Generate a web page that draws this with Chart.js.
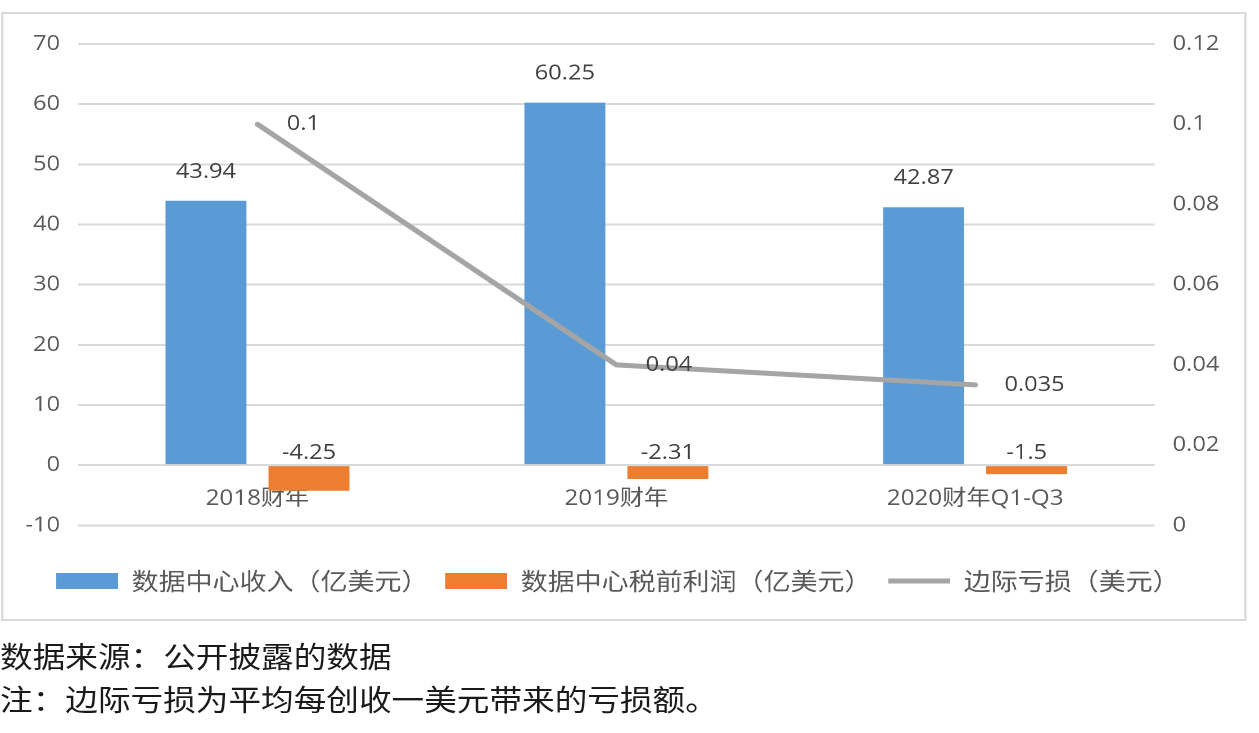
<!DOCTYPE html>
<html><head><meta charset="utf-8">
<script src="https://cdn.jsdelivr.net/npm/chart.js@4.4.1/dist/chart.umd.min.js"></script>
<style>
html,body{margin:0;padding:0;background:#fff;width:1259px;height:733px;overflow:hidden;}
#stage{position:absolute;left:0;top:0;width:1119.1px;height:733px;transform:scaleX(1.125);transform-origin:0 0;}
#box{position:absolute;left:0.9px;top:12px;width:1107.6px;height:609px;box-sizing:border-box;border:2px solid #D9D9D9;background:#fff;}
#wrap{position:relative;width:100%;height:100%;}
#note{position:absolute;left:0;top:633.5px;font-family:'Noto Sans CJK SC',sans-serif;font-size:29px;line-height:43px;color:#1a1a1a;white-space:nowrap;}
</style></head>
<body>
<div id="stage">
  <div id="box"><div id="wrap"><canvas id="c"></canvas></div></div>
  <div id="note">数据来源：公开披露的数据<br>注：边际亏损为平均每创收一美元带来的亏损额。</div>
</div>
<script>
const categories = ['2018财年', '2019财年', '2020财年Q1-Q3'];
const revenue = [43.94, 60.25, 42.87];
const pretaxProfit = [-4.25, -2.31, -1.5];
const marginalLoss = [0.1, 0.04, 0.035];
const seriesNames = ['数据中心收入（亿美元）', '数据中心税前利润（亿美元）', '边际亏损（美元）'];
const rightTickLabels = ['0', '0.02', '0.04', '0.06', '0.08', '0.1', '0.12'];

const FONT = "'Open Sans', 'Noto Sans CJK SC', sans-serif";
const TICK_COLOR = '#595959';

const valueLabels = {
  id: 'valueLabels',
  afterDatasetsDraw(chart) {
    const ctx = chart.ctx;
    const zeroY = chart.scales.y.getPixelForValue(0);
    ctx.save();
    ctx.font = '21px ' + FONT;
    ctx.fillStyle = '#404040';
    ctx.textBaseline = 'middle';
    chart.data.datasets.forEach((ds, di) => {
      const meta = chart.getDatasetMeta(di);
      meta.data.forEach((el, i) => {
        const v = ds.data[i];
        const text = String(v);
        if (ds.type === 'line') {
          ctx.textAlign = 'left';
          ctx.fillText(text, el.x + 26, el.y);
        } else {
          ctx.textAlign = 'center';
          const y = v >= 0 ? el.y - 29 : zeroY - 12;
          ctx.fillText(text, el.x, y);
        }
      });
    });
    ctx.restore();
  }
};

const legendShift = {
  id: 'legendShift',
  afterLayout(chart) {
    if (chart.legend) { chart.legend.left += 32; chart.legend.right += 32; }
  }
};

new Chart(document.getElementById('c'), {
  type: 'bar',
  data: {
    labels: categories,
    datasets: [
      { type: 'bar', label: seriesNames[0], data: revenue, backgroundColor: '#5B9BD5', borderWidth: 0,
        xAxisID: 'x', yAxisID: 'y', order: 1, pointStyle: 'rect',
        categoryPercentage: 0.574, barPercentage: 0.786 },
      { type: 'bar', label: seriesNames[1], data: pretaxProfit, backgroundColor: '#ED7D31', borderWidth: 0,
        xAxisID: 'x', yAxisID: 'y', order: 1, pointStyle: 'rect',
        categoryPercentage: 0.574, barPercentage: 0.786 },
      { type: 'line', label: seriesNames[2], data: marginalLoss, borderColor: '#A5A5A5', backgroundColor: '#A5A5A5',
        borderWidth: 5, borderCapStyle: 'round', borderJoinStyle: 'round', pointRadius: 0, tension: 0,
        xAxisID: 'x', yAxisID: 'y1', order: 0, pointStyle: 'line' }
    ]
  },
  options: {
    responsive: true,
    maintainAspectRatio: false,
    animation: false,
    devicePixelRatio: 2,
    layout: { padding: { top: 30, left: 0, right: 0, bottom: 16 } },
    plugins: {
      tooltip: { enabled: false },
      legend: {
        position: 'bottom',
        align: 'start',
        labels: {
          usePointStyle: true,
          pointStyleWidth: 55,
          boxHeight: 16,
          padding: 15,
          color: TICK_COLOR,
          font: { family: "'Noto Sans CJK SC', sans-serif", size: 24 },
          sort: (a, b) => a.datasetIndex - b.datasetIndex
        }
      }
    },
    scales: {
      x: {
        type: 'category',
        position: { y: 0 },
        offset: true,
        grid: { display: false, drawTicks: false },
        border: { display: false },
        ticks: { color: TICK_COLOR, font: { family: FONT, size: 21.5 }, padding: 21, maxRotation: 0, autoSkip: false }
      },
      xs: {
        type: 'category',
        position: 'bottom',
        offset: true,
        grid: { display: false, drawTicks: false },
        border: { display: false },
        ticks: { display: false },
        afterFit: (s) => { s.height = 28.7; }
      },
      y: {
        position: 'left',
        min: -10, max: 70,
        ticks: { stepSize: 10, color: TICK_COLOR, font: { family: FONT, size: 21 }, padding: 16 },
        grid: { color: '#D9D9D9', lineWidth: 2, drawTicks: false },
        border: { display: false },
        afterFit: (s) => { s.width = 66.4; }
      },
      y1: {
        position: 'right',
        min: 0, max: 0.12,
        ticks: { stepSize: 0.02, color: TICK_COLOR, font: { family: FONT, size: 21 }, padding: 16,
          callback: (v, i) => rightTickLabels[i] !== undefined ? rightTickLabels[i] : String(+v.toFixed(3)) },
        grid: { display: false, drawTicks: false },
        border: { display: false },
        afterFit: (s) => { s.width = 79.8; }
      }
    }
  },
  plugins: [valueLabels, legendShift]
});
</script>
</body></html>
